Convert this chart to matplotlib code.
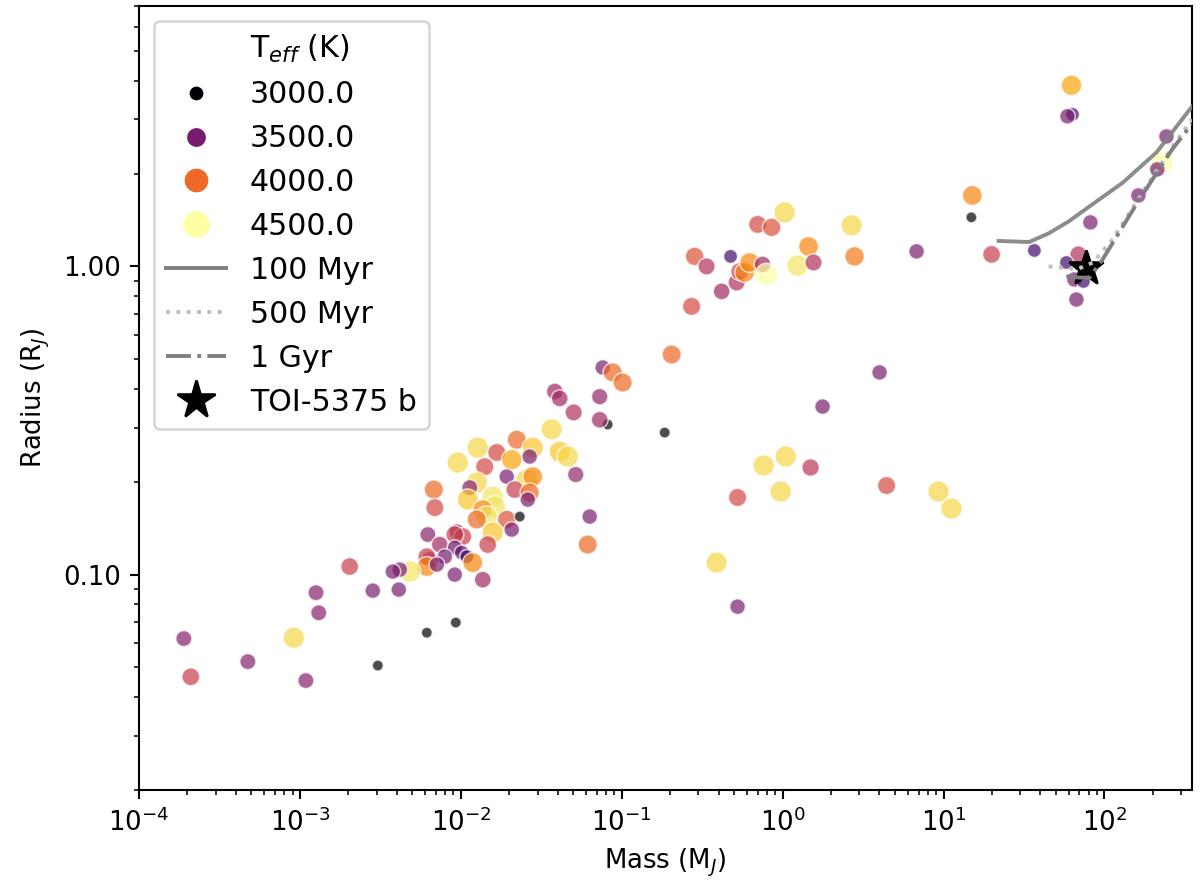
import numpy as np
import matplotlib
matplotlib.use('Agg')
import matplotlib.pyplot as plt
from matplotlib.lines import Line2D
from matplotlib.ticker import FormatStrFormatter, NullFormatter

# planet sample: mass (M_J), radius (R_J), host Teff (K)
mass = [
    1.90e-4, 2.10e-4, 4.75e-4, 9.18e-4, 1.09e-3, 1.26e-3, 1.31e-3, 2.04e-3, 2.84e-3, 4.12e-3,
    3.05e-3, 6.15e-3, 9.31e-3,
    0.0384, 0.0412, 0.0503, 0.0367, 0.0223, 0.01275, 0.01674, 0.00958, 0.0141, 0.02074,
    0.0280, 0.0268, 0.0412, 0.0462, 0.0518, 0.0257, 0.0280, 0.0193, 0.01257, 0.01137,
    0.02165, 0.0268, 0.0261, 0.0158, 0.01105, 0.0068, 0.0069, 0.01626, 0.0137, 0.0145,
    0.01257, 0.0193, 0.02326, 0.02074, 0.0158, 0.01471, 0.00945, 0.0103, 0.00918, 0.00624,
    0.0074, 0.00918, 0.01014, 0.0109, 0.01187, 0.00796, 0.00642, 0.00615, 0.00615, 0.0071,
    0.00482, 0.00418, 0.00378, 0.00918, 0.0137, 0.0633, 0.0615,
    0.0762, 0.0879, 0.1014, 0.0730, 0.2045, 0.272, 0.284, 0.337, 0.418, 0.475,
    0.518, 0.541, 0.581, 0.624, 0.751, 0.795, 0.70, 0.855, 1.029, 1.239,
    1.45, 1.557, 2.683, 2.80, 1.772, 4.005, 0.0818, 0.0730, 0.185,
    0.389, 0.525, 0.525, 0.762, 1.044, 0.972, 1.492, 4.43, 9.31, 11.2,
    62.4, 63.3, 58.9, 15.1, 14.9, 19.9, 36.7, 81.8, 68.9, 58.1,
    65.1, 74.1, 67.0, 162.6, 229.0, 213.0, 243.0, 6.80,
]
radius = [
    0.0620, 0.0466, 0.0522, 0.0624, 0.0453, 0.0874, 0.0752, 0.1062, 0.0887, 0.0894,
    0.0507, 0.0648, 0.0699,
    0.393, 0.373, 0.336, 0.296, 0.274, 0.2584, 0.249, 0.231, 0.224, 0.236,
    0.2584, 0.2416, 0.2507, 0.2416, 0.2112, 0.2034, 0.208, 0.208, 0.199, 0.1916,
    0.1888, 0.1846, 0.1752, 0.179, 0.1752, 0.1888, 0.165, 0.1663, 0.1626, 0.1543,
    0.151, 0.151, 0.1543, 0.140, 0.1369, 0.1252, 0.138, 0.1329, 0.1349, 0.1349,
    0.1252, 0.1224, 0.1179, 0.1144, 0.1094, 0.1144, 0.1119, 0.1144, 0.1062, 0.1078,
    0.1023, 0.1038, 0.1023, 0.100, 0.0963, 0.1543, 0.1252,
    0.470, 0.453, 0.420, 0.378, 0.518, 0.742, 1.078, 1.0, 0.830, 1.078,
    0.887, 0.963, 0.956, 1.030, 1.015, 0.942, 1.369, 1.339, 1.497, 1.007,
    1.161, 1.030, 1.359, 1.078, 0.351, 0.453, 0.307, 0.318, 0.289,
    0.1094, 0.0787, 0.178, 0.226, 0.2416, 0.186, 0.2226, 0.1945, 0.186, 0.1638,
    3.87, 3.115, 3.07, 1.70, 1.443, 1.094, 1.127, 1.39, 1.094, 1.030,
    0.907, 0.894, 0.781, 1.70, 2.176, 2.065, 2.642, 1.119,
]
teff = [
    3550, 3800, 3550, 4350, 3550, 3550, 3550, 3800, 3500, 3500,
    3000, 3000, 3000,
    3650, 3650, 3700, 4350, 4000, 4350, 3850, 4350, 3850, 4200,
    4300, 3500, 4300, 4350, 3600, 4350, 4100, 3500, 4350, 3550,
    3800, 4000, 3500, 4400, 4300, 4000, 3850, 4400, 4100, 4400,
    4000, 3900, 3000, 3500, 4300, 3800, 3500, 3800, 3800, 3550,
    3650, 3450, 3400, 3300, 4100, 3500, 3650, 3800, 4100, 3500,
    4400, 3500, 3500, 3500, 3650, 3500, 4000,
    3500, 4000, 4000, 3600, 4000, 3850, 3900, 3700, 3650, 3300,
    3700, 3800, 4100, 4100, 3650, 4500, 3850, 3900, 4350, 4400,
    4100, 3700, 4350, 4050, 3500, 3500, 3000, 3650, 3000,
    4350, 3500, 3850, 4350, 4350, 4350, 3750, 3850, 4350, 4350,
    4200, 3300, 3500, 4100, 3000, 3800, 3300, 3500, 3700, 3300,
    3500, 3300, 3500, 3500, 4500, 3500, 3500, 3500,
]

# isochrones
iso_100_m = [22, 34, 45, 60, 80, 130, 210, 350]
iso_100_r = [1.21, 1.20, 1.28, 1.40, 1.56, 1.87, 2.34, 3.30]
iso_500_m = [45, 55, 68, 85, 112, 180, 265, 350]
iso_500_r = [1.00, 0.99, 0.98, 1.03, 1.22, 1.80, 2.45, 3.00]
iso_1g_m = [58, 70, 81, 97, 165, 264, 350]
iso_1g_r = [0.93, 0.92, 0.92, 1.05, 1.65, 2.40, 2.90]

toi_mass = 77.0
toi_radius = 0.99

legend_teff = [3000.0, 3500.0, 4000.0, 4500.0]
legend_msize = [5.8, 7.7, 9.6, 10.8]
x_ticks = [1e-4, 1e-3, 1e-2, 1e-1, 1e0, 1e1, 1e2]

tmin, tmax = 3000, 4500
cmap = plt.get_cmap('inferno')

fig = plt.figure(figsize=(6.4, 4.768), dpi=187.5)
ax = fig.add_axes([0.1158, 0.1163, 0.8775, 0.877])

teff_arr = np.array(teff, dtype=float)
sizes = 18 + (teff_arr - tmin) / (tmax - tmin) * 55
ax.scatter(mass, radius, c=teff_arr, cmap=cmap, vmin=tmin, vmax=tmax, s=sizes,
           alpha=0.7, edgecolors='white', linewidths=0.6, zorder=2)

ax.plot(toi_mass, toi_radius, marker='*', color='black', markersize=14,
        linestyle='none', zorder=3)

ax.plot(iso_100_m, iso_100_r, color='gray', lw=1.5, alpha=0.9, zorder=4)
ax.plot(iso_500_m, iso_500_r, color='silver', lw=1.5, ls=':', zorder=4)
ax.plot(iso_1g_m, iso_1g_r, color='gray', lw=1.5, ls='-.', zorder=4)

ax.set_xscale('log')
ax.set_yscale('log')
ax.set_xlim(1e-4, 350)
ax.set_ylim(0.02, 7)
ax.set_xticks(x_ticks)
ax.yaxis.set_major_formatter(FormatStrFormatter('%.2f'))
ax.yaxis.set_minor_formatter(NullFormatter())
ax.set_xlabel('Mass (M$_J$)')
ax.set_ylabel('Radius (R$_J$)')

handles = [Line2D([], [], linestyle='none', marker='')]
labels = ['T$_{eff}$ (K)']
for t, ms in zip(legend_teff, legend_msize):
    handles.append(Line2D([], [], linestyle='none', marker='o', markersize=ms,
                          markerfacecolor=cmap((t - tmin) / (tmax - tmin)),
                          markeredgecolor='white', markeredgewidth=0.5))
    labels.append(str(t))
handles += [Line2D([], [], color='gray', lw=1.5),
            Line2D([], [], color='silver', lw=1.5, ls=':'),
            Line2D([], [], color='gray', lw=1.5, ls='-.'),
            Line2D([], [], linestyle='none', marker='*', color='black', markersize=15)]
labels += ['100 Myr', '500 Myr', '1 Gyr', 'TOI-5375 b']
ax.legend(handles, labels, loc='upper left', fontsize=11.5, labelspacing=0.5,
          handlelength=2.0)

fig.savefig('out.png', dpi=187.5)
